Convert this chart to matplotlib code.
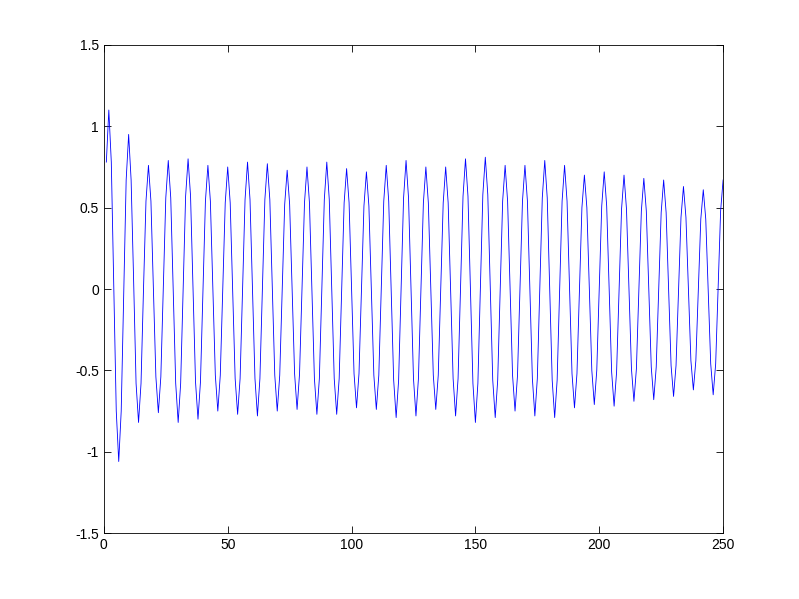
import matplotlib
matplotlib.use('Agg')
import matplotlib.pyplot as plt
import numpy as np

# samples, one row per cycle (8 samples each)
signal = [
    0.78, 1.10, 0.78, 0.02, -0.75, -1.06, -0.75, -0.05,
    0.67, 0.95, 0.67, 0.06, -0.58, -0.82, -0.58, 0.00,
    0.54, 0.76, 0.54, 0.00, -0.54, -0.76, -0.54, 0.01,
    0.56, 0.79, 0.56, -0.01, -0.58, -0.82, -0.58, -0.01,
    0.57, 0.80, 0.57, 0.00, -0.57, -0.80, -0.57, -0.02,
    0.54, 0.76, 0.54, 0.01, -0.53, -0.75, -0.53, 0.00,
    0.53, 0.75, 0.53, -0.01, -0.55, -0.77, -0.55, 0.00,
    0.55, 0.78, 0.55, 0.00, -0.55, -0.78, -0.55, 0.00,
    0.55, 0.77, 0.55, 0.01, -0.53, -0.75, -0.53, -0.01,
    0.52, 0.73, 0.52, 0.00, -0.52, -0.74, -0.52, 0.01,
    0.53, 0.75, 0.53, -0.01, -0.55, -0.77, -0.55, 0.00,
    0.55, 0.78, 0.55, 0.00, -0.55, -0.77, -0.55, -0.01,
    0.53, 0.74, 0.53, 0.00, -0.52, -0.73, -0.52, 0.00,
    0.51, 0.72, 0.51, -0.01, -0.53, -0.74, -0.53, 0.01,
    0.54, 0.76, 0.54, -0.01, -0.56, -0.79, -0.56, 0.00,
    0.56, 0.79, 0.56, 0.00, -0.55, -0.78, -0.55, 0.00,
    0.53, 0.75, 0.53, 0.00, -0.53, -0.74, -0.53, 0.00,
    0.53, 0.75, 0.53, -0.01, -0.55, -0.78, -0.55, 0.01,
    0.57, 0.80, 0.57, -0.01, -0.58, -0.82, -0.58, 0.00,
    0.58, 0.81, 0.58, 0.01, -0.56, -0.79, -0.56, 0.00,
    0.54, 0.76, 0.54, 0.00, -0.53, -0.75, -0.53, 0.00,
    0.54, 0.76, 0.54, -0.01, -0.55, -0.78, -0.55, 0.00,
    0.56, 0.79, 0.56, 0.00, -0.56, -0.79, -0.56, -0.01,
    0.54, 0.76, 0.54, 0.01, -0.52, -0.73, -0.52, -0.01,
    0.50, 0.70, 0.50, 0.00, -0.50, -0.71, -0.50, 0.00,
    0.51, 0.72, 0.51, 0.00, -0.51, -0.72, -0.51, -0.01,
    0.49, 0.70, 0.49, 0.00, -0.49, -0.69, -0.49, 0.00,
    0.48, 0.68, 0.48, 0.00, -0.48, -0.68, -0.48, 0.00,
    0.47, 0.67, 0.47, 0.00, -0.47, -0.66, -0.47, -0.02,
    0.44, 0.63, 0.44, 0.00, -0.44, -0.62, -0.44, -0.01,
    0.43, 0.61, 0.43, -0.02, -0.46, -0.65, -0.46, 0.00,
    0.48, 0.67,
]
xticks = [0, 50, 100, 150, 200, 250]
yticks = [-1.5, -1, -0.5, 0, 0.5, 1, 1.5]
ytick_labels = ['-1.5', '-1', '-0.5', '0', '0.5', '1', '1.5']

plt.rcParams['font.family'] = ['Liberation Sans', 'DejaVu Sans']
plt.rcParams['axes.unicode_minus'] = False

fig = plt.figure(figsize=(7.99, 5.99), dpi=100)
ax = fig.add_axes([0.13, 0.11, 0.775, 0.815])

n = np.arange(1, len(signal) + 1)
ax.plot(n, signal, color='#0000ff', linewidth=0.6)

ax.set_xlim(0, 250)
ax.set_ylim(-1.5, 1.5)
ax.set_xticks(xticks)
ax.set_xticklabels([str(v) for v in xticks])
ax.set_yticks(yticks)
ax.set_yticklabels(ytick_labels)
ax.tick_params(direction='in', top=True, right=True, labelsize=10, length=5, width=0.6)
for s in ax.spines.values():
    s.set_linewidth(0.6)

fig.savefig('out.png', dpi=100)
